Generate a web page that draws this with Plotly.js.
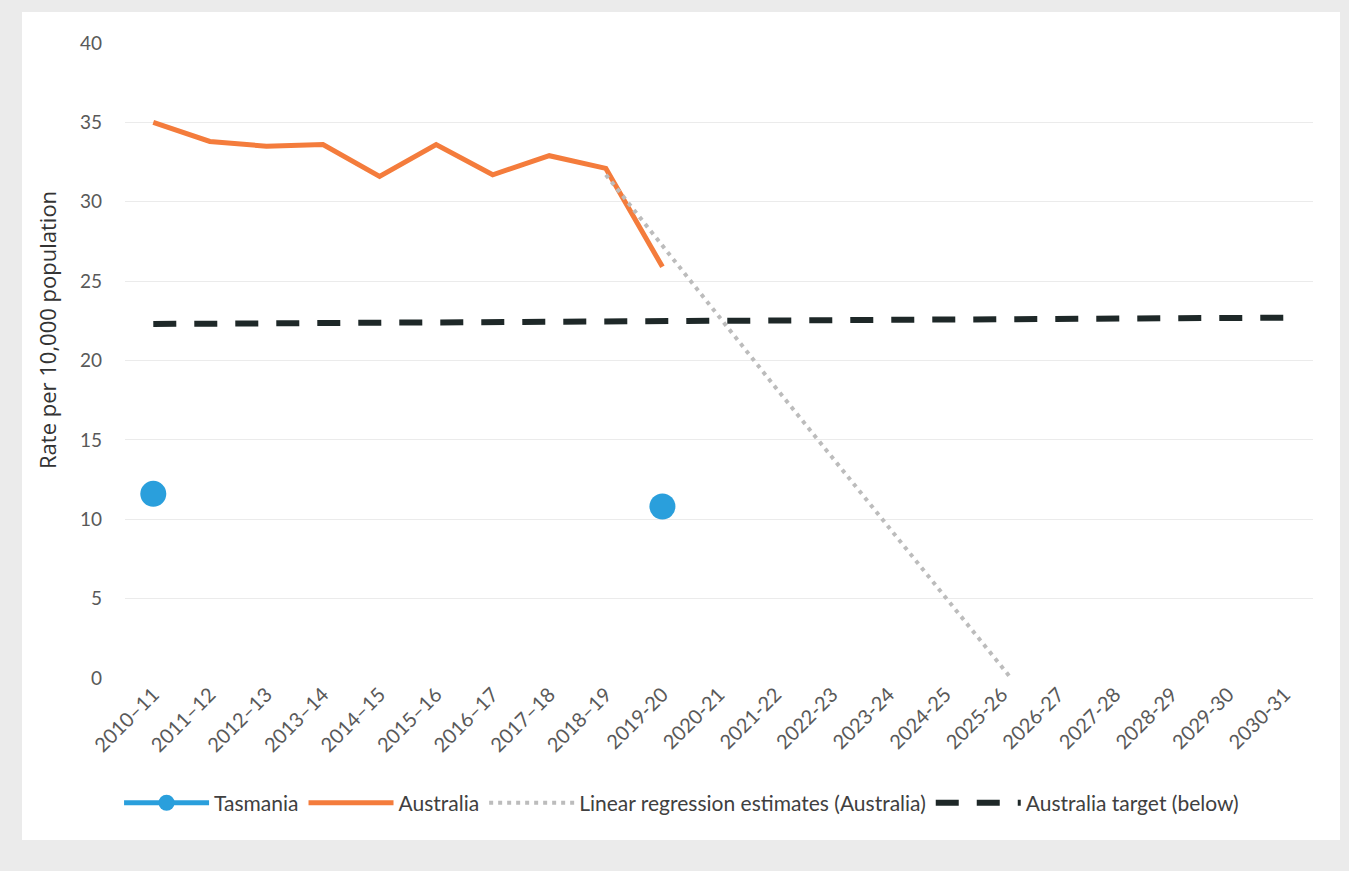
<!DOCTYPE html>
<html>
<head>
<meta charset="utf-8">
<script src="https://cdn.plot.ly/plotly-3.0.1.min.js"></script>
<style>
  html, body { margin: 0; padding: 0; background: #ebebeb; width: 1349px; height: 871px; overflow: hidden; }
  #chart { position: absolute; left: 22px; top: 12px; width: 1318px; height: 828px; background: #ffffff; }
</style>
</head>
<body>
<div id="chart"></div>
<script>
const years = ["2010–11","2011–12","2012–13","2013–14","2014–15","2015–16","2016–17","2017–18","2018–19",
  "2019-20","2020-21","2021-22","2022-23","2023-24","2024-25","2025-26","2026-27","2027-28","2028-29","2029-30","2030-31"];

const tasmania = [11.6,null,null,null,null,null,null,null,null,10.8,null,null,null,null,null,null,null,null,null,null,null];

const australia = [35.0,33.8,33.5,33.6,31.6,33.6,31.7,32.9,32.1,25.9,null,null,null,null,null,null,null,null,null,null,null];

const regression = [null,null,null,null,null,null,null,null,31.7,27.2,22.7,18.3,13.9,9.5,5.1,0.7,-3.7,null,null,null,null];

const target = [22.30,22.32,22.34,22.36,22.38,22.40,22.42,22.44,22.46,22.48,22.50,22.52,22.54,22.56,22.58,22.60,22.62,22.64,22.66,22.68,22.70];

const yTicks = [0,5,10,15,20,25,30,35,40];

const yTitle = "Rate per 10,000 population";

const font = "Lato, 'Open Sans', sans-serif";

const traces = [
  { x: years, y: tasmania, name: "Tasmania", type: "scatter", mode: "lines+markers",
    connectgaps: false,
    line: { color: "#2a9fdc", width: 5 },
    marker: { color: "#2a9fdc", size: 26 } },
  { x: years, y: australia, name: "Australia", type: "scatter", mode: "lines",
    line: { color: "#f47c3c", width: 5 } },
  { x: years, y: regression, name: "Linear regression estimates (Australia)", type: "scatter", mode: "lines",
    line: { color: "#bcbcbc", width: 4, dash: "4px,5px" } },
  { x: years, y: target, name: "Australia target (below)", type: "scatter", mode: "lines",
    line: { color: "#1e2828", width: 6, dash: "23px,18px" } }
];

const layout = {
  width: 1318, height: 828,
  paper_bgcolor: "#ffffff", plot_bgcolor: "#ffffff",
  margin: { l: 103, r: 27, t: 31, b: 162 },
  font: { family: font, color: "#595959", size: 17 },
  showlegend: true,
  legend: { orientation: "h", x: -0.005, xanchor: "left", y: -0.197, yanchor: "middle",
    font: { family: font, size: 21, color: "#404040" }, itemsizing: "trace", itemwidth: 85,
    traceorder: "normal" },
  xaxis: { type: "category", range: [-0.5, 20.5], tickangle: -45, showgrid: false,
    showline: false, zeroline: false, ticks: "", tickfont: { family: font, size: 20, color: "#595959" } },
  yaxis: { range: [0, 40], tickvals: yTicks, showgrid: true, gridcolor: "#ebebeb", gridwidth: 1,
    zeroline: false, showline: false, ticks: "", ticklabelstandoff: 22,
    tickfont: { family: font, size: 19, color: "#595959" } },
  annotations: [
    { text: yTitle, xref: "paper", yref: "paper", x: -0.0657, y: 0.548, xanchor: "center", yanchor: "middle",
      textangle: -90, showarrow: false,
      font: { family: "'Open Sans', 'Liberation Sans', sans-serif", size: 22, color: "#333333" } }
  ]
};

Plotly.newPlot("chart", traces, layout, { displayModeBar: false, staticPlot: true });
</script>
</body>
</html>
